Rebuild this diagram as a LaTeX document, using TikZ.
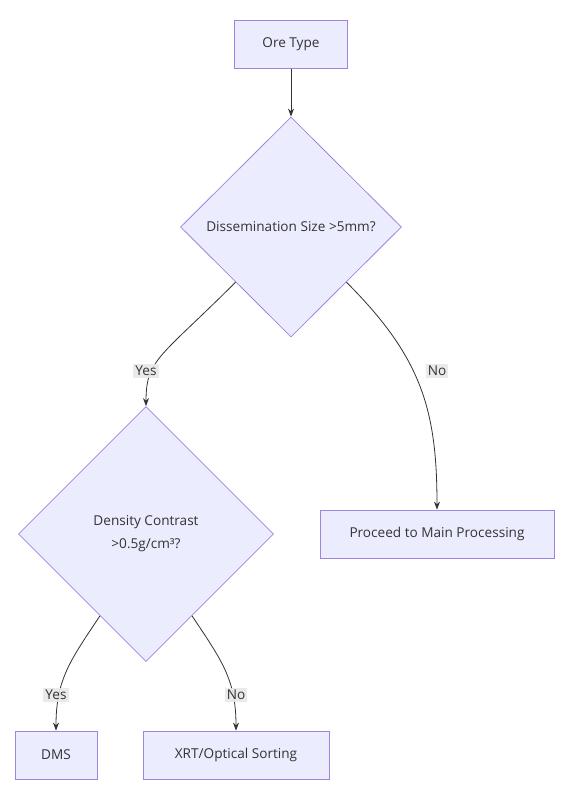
\documentclass[tikz,border=0pt]{standalone}
\usepackage{fontspec}
\setmainfont{Open Sans}
\usepackage{tikz}
\usetikzlibrary{shapes.geometric, arrows.meta, calc}
\definecolor{nodefill}{HTML}{ECECFF}
\definecolor{nodeline}{HTML}{9F85DF}
\definecolor{edgeline}{HTML}{333333}
\definecolor{lblfill}{HTML}{E8E8E8}
\tikzstyle{process} = [rectangle, minimum height=48pt, text centered, draw=nodeline, fill=nodefill, line width=0.8pt, text=edgeline, font=\fontsize{13.6}{16}\selectfont]
\tikzstyle{decision} = [diamond, aspect=1, inner sep=0pt, align=center, draw=nodeline, fill=nodefill, line width=0.8pt, text=edgeline, font=\fontsize{13.6}{23}\selectfont]
\tikzstyle{lbl} = [rectangle, fill=lblfill, fill opacity=0.9, text opacity=1, inner sep=2pt, text=edgeline, font=\fontsize{13.6}{16}\selectfont]
\tikzstyle{line} = [draw=edgeline, line width=0.8pt]
\tikzstyle{arrow} = [line, -{Stealth[length=8pt, width=6pt]}]

\begin{document}
\begin{tikzpicture}[x=1pt, y=1pt]
\useasboundingbox (0,0) rectangle (568,-800);
\node (ore) [process, minimum width=113pt] at (291,-44.5) {Ore Type};
\node (dissem) [decision, below of = ore, node distance=182.5pt, minimum width=221pt, minimum height=220pt] {Dissemination Size >5mm?};
\node (density) [decision, minimum width=255pt, minimum height=255pt] at (146,-534) {Density Contrast\\>0.5g/cm³?};
\node (proceed) [process, right of = density, node distance=291pt, minimum width=234pt] {Proceed to Main Processing};
\node (dms) [process, minimum width=82pt] at (56,-755) {DMS};
\node (xrt) [process, right of = dms, node distance=180pt, minimum width=186pt] {XRT/Optical Sorting};
\draw [arrow] (ore) -- (dissem);
\draw [arrow] (dissem.south west) .. controls +(-75,-75) and +(0,47) .. (density.north);
\draw [arrow] (dissem.south east) .. controls +(75,-75) and +(0,100) .. (proceed.north);
\draw [arrow] ($(density.west)!0.64!(density.south)$) .. controls +(-30,-45) and +(0,51) .. (dms.north);
\draw [arrow] ($(density.east)!0.64!(density.south)$) .. controls +(30,-45) and +(0,51) .. (xrt.north);
% edge labels
\node (yesA) [lbl, above of = density, node distance=163pt] {Yes};
\node (noA) [lbl, above of = proceed, node distance=163pt] {No};
\node (yesB) [lbl, above of = dms, node distance=60pt] {Yes};
\node (noB) [lbl, above of = xrt, node distance=60pt] {No};
\end{tikzpicture}
\end{document}
